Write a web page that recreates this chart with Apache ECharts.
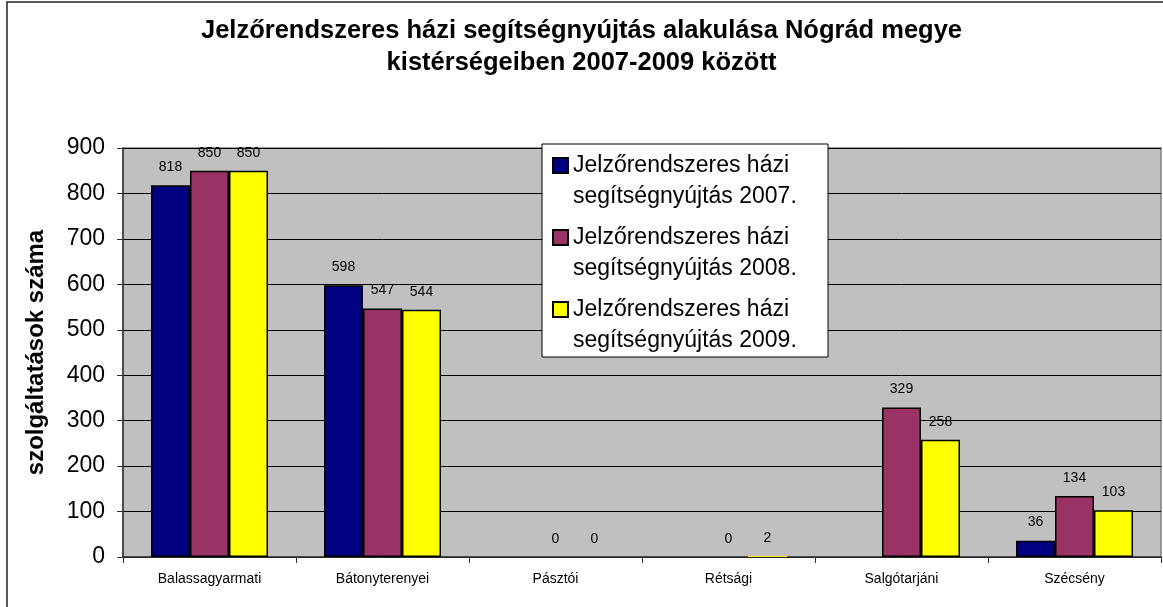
<!DOCTYPE html>
<html>
<head>
<meta charset="utf-8">
<script src="https://cdn.jsdelivr.net/npm/echarts@6/dist/echarts.min.js"></script>
<style>
html,body{margin:0;padding:0;background:#fff;}
#chart{width:1163px;height:607px;}
</style>
</head>
<body>
<div id="chart"></div>
<script>
const categories = ['Balassagyarmati', 'Bátonyterenyei', 'Pásztói', 'Rétsági', 'Salgótarjáni', 'Szécsény'];
const seriesNames = ['Jelzőrendszeres házi\nsegítségnyújtás 2007.', 'Jelzőrendszeres házi\nsegítségnyújtás 2008.', 'Jelzőrendszeres házi\nsegítségnyújtás 2009.'];
const values2007 = [818, 598, null, null, null, 36];
const values2008 = [850, 547, 0, 0, 329, 134];
const values2009 = [850, 544, 0, 2, 258, 103];
const yTicks = [0, 100, 200, 300, 400, 500, 600, 700, 800, 900];
const colors = ['#000080', '#993366', '#FFFF00'];

const FONT = "'Liberation Sans', Arial, sans-serif";
const chart = echarts.init(document.getElementById('chart'));

function makeSeries(name, data, color) {
  return {
    name: name,
    type: 'bar',
    // near-zero bars are too thin to show their outline in the reference
    data: data.map(v => (v !== null && v <= 2) ? { value: v, itemStyle: { borderWidth: 0 } } : v),
    barWidth: 39,
    barGap: '0%',
    itemStyle: { color: color, borderColor: '#000', borderWidth: 1.5 },
    label: {
      show: true, position: 'top', distance: 11,
      color: '#000', fontSize: 14, fontFamily: FONT
    },
    emphasis: { disabled: true }
  };
}

chart.setOption({
  animation: false,
  backgroundColor: '#fff',
  graphic: [{
    type: 'rect', silent: true, z: -10,
    shape: { x: 7, y: 2, width: 1200, height: 650 },
    style: { fill: 'none', stroke: '#222', lineWidth: 1.5 }
  }],
  title: {
    text: 'Jelzőrendszeres házi segítségnyújtás alakulása Nógrád megye\nkistérségeiben 2007-2009 között',
    left: 'center', top: 15, padding: 0,
    textStyle: { fontFamily: FONT, fontSize: 25.5, fontWeight: 'bold', color: '#000', lineHeight: 32 }
  },
  legend: {
    orient: 'vertical',
    left: 542, top: 144,
    padding: [6, 9, 1, 10],
    backgroundColor: '#fff',
    borderColor: '#000', borderWidth: 1,
    itemWidth: 15, itemHeight: 46, itemGap: 10,
    icon: 'path://M0,0h15v15h-15z M0,46',
    selectedMode: false,
    textStyle: { fontFamily: FONT, fontSize: 23, color: '#000', lineHeight: 31, width: 246 }
  },
  grid: {
    left: 123, right: 2, top: 148, bottom: 50,
    show: true, backgroundColor: '#C0C0C0', borderColor: '#808080', borderWidth: 1.5
  },
  xAxis: {
    type: 'category',
    data: categories,
    axisLine: { lineStyle: { color: '#333', width: 1.5 } },
    axisTick: { show: true, length: 6, lineStyle: { color: '#333' } },
    axisLabel: { color: '#000', fontSize: 14, fontFamily: FONT, margin: 15 }
  },
  yAxis: {
    type: 'value',
    min: yTicks[0], max: yTicks[yTicks.length - 1], interval: 100,
    name: 'szolgáltatások száma',
    nameLocation: 'middle', nameGap: 75, nameRotate: 90,
    nameTextStyle: { fontFamily: FONT, fontSize: 24, fontWeight: 'bold', color: '#000' },
    axisLine: { show: true, lineStyle: { color: '#333', width: 1.5 } },
    axisTick: { show: true, length: 6, lineStyle: { color: '#333' } },
    axisLabel: { color: '#000', fontSize: 23, fontFamily: FONT, margin: 18 },
    splitLine: { lineStyle: { color: '#000', width: 1 } }
  },
  series: [
    makeSeries(seriesNames[0], values2007, colors[0]),
    makeSeries(seriesNames[1], values2008, colors[1]),
    makeSeries(seriesNames[2], values2009, colors[2])
  ]
});
</script>
</body>
</html>
